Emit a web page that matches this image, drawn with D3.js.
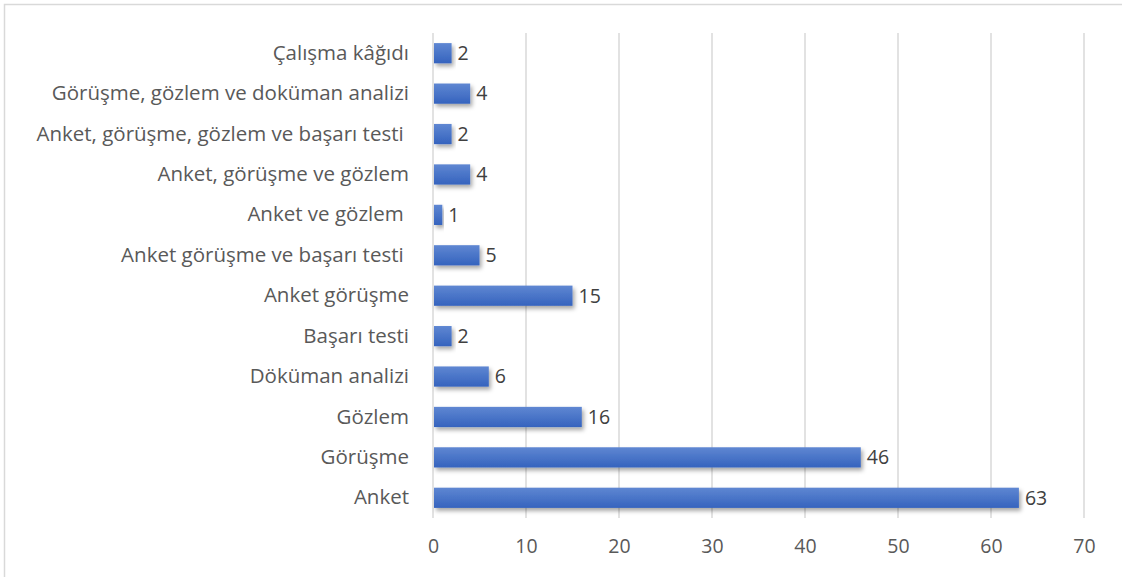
<!DOCTYPE html>
<html>
<head>
<meta charset="utf-8">
<script src="https://cdn.jsdelivr.net/npm/d3@7"></script>
<style>
  body { margin: 0; background: #fff; }
  text { font-family: "Open Sans", Lato, sans-serif; white-space: pre; }
</style>
</head>
<body>
<svg id="chart" width="1122" height="577"></svg>
<script>
// categories, bottom to top as in the picture
var categories = [
    'Anket',
    'Görüşme',
    'Gözlem',
    'Döküman analizi',
    'Başarı testi',
    'Anket görüşme',
    'Anket görüşme ve başarı testi ',
    'Anket ve gözlem ',
    'Anket, görüşme ve gözlem',
    'Anket, görüşme, gözlem ve başarı testi ',
    'Görüşme, gözlem ve doküman analizi',
    'Çalışma kâğıdı'
];
var counts = [63, 46, 16, 6, 2, 15, 5, 1, 4, 2, 4, 2];
var xTicks = [0, 10, 20, 30, 40, 50, 60, 70];

var svg = d3.select('#chart');
var W = 1122, H = 577;
var margin = {top: 33, right: 38, bottom: 59, left: 433};

// chart border
svg.append('rect')
    .attr('x', 4.5).attr('y', 4.5)
    .attr('width', W + 10).attr('height', H + 10)
    .attr('fill', '#fff')
    .attr('stroke', '#d9d9d9')
    .attr('stroke-width', 1.5);

var defs = svg.append('defs');
var grad = defs.append('linearGradient')
    .attr('id', 'barGrad')
    .attr('x1', 0).attr('y1', 0).attr('x2', 0).attr('y2', 1);
grad.append('stop').attr('offset', '0%').attr('stop-color', '#5f87d2');
grad.append('stop').attr('offset', '100%').attr('stop-color', '#3563be');

var shadow = defs.append('filter')
    .attr('id', 'shadow')
    .attr('x', '-10%').attr('y', '-30%')
    .attr('width', '130%').attr('height', '190%');
shadow.append('feDropShadow')
    .attr('dx', 2).attr('dy', 3)
    .attr('stdDeviation', 2)
    .attr('flood-color', '#000')
    .attr('flood-opacity', 0.35);

var x = d3.scaleLinear()
    .domain([0, 70])
    .range([margin.left, W - margin.right]);

var y = d3.scaleBand()
    .domain(categories.slice().reverse())
    .range([margin.top, H - margin.bottom])
    .paddingInner(0.5)
    .paddingOuter(0.25);

// gridlines
svg.append('g')
    .selectAll('line')
    .data(xTicks)
    .join('line')
    .attr('x1', function(d) { return x(d); })
    .attr('x2', function(d) { return x(d); })
    .attr('y1', margin.top)
    .attr('y2', H - margin.bottom)
    .attr('stroke', '#d9d9d9')
    .attr('stroke-width', 1.5);

// x axis labels
var xAxis = d3.axisBottom(x).tickValues(xTicks).tickSize(0).tickPadding(21);
var gx = svg.append('g')
    .attr('transform', 'translate(0,' + (H - margin.bottom) + ')')
    .call(xAxis);
gx.select('.domain').remove();
gx.selectAll('text')
    .attr('fill', '#595959')
    .style('font-size', '19.5px');

// category labels
var yAxis = d3.axisLeft(y).tickSize(0).tickPadding(24);
var gy = svg.append('g')
    .attr('transform', 'translate(' + margin.left + ',0)')
    .call(yAxis);
gy.select('.domain').remove();
gy.selectAll('text')
    .attr('fill', '#595959')
    .style('font-size', '20.5px');

var rows = categories.map(function(c, i) { return {cat: c, val: counts[i]}; });

// bars
svg.append('g')
    .selectAll('rect')
    .data(rows)
    .join('rect')
    .attr('x', x(0) + 1)
    .attr('y', function(d) { return y(d.cat); })
    .attr('width', function(d) { return x(d.val) - x(0) - 1; })
    .attr('height', y.bandwidth())
    .attr('fill', 'url(#barGrad)')
    .attr('filter', 'url(#shadow)');

// value labels
svg.append('g')
    .selectAll('text')
    .data(rows)
    .join('text')
    .attr('x', function(d) { return x(d.val) + 6; })
    .attr('y', function(d) { return y(d.cat) + y.bandwidth() / 2; })
    .attr('dy', '0.35em')
    .attr('fill', '#404040')
    .style('font-size', '19.5px')
    .text(function(d) { return d.val; });
</script>
</body>
</html>
